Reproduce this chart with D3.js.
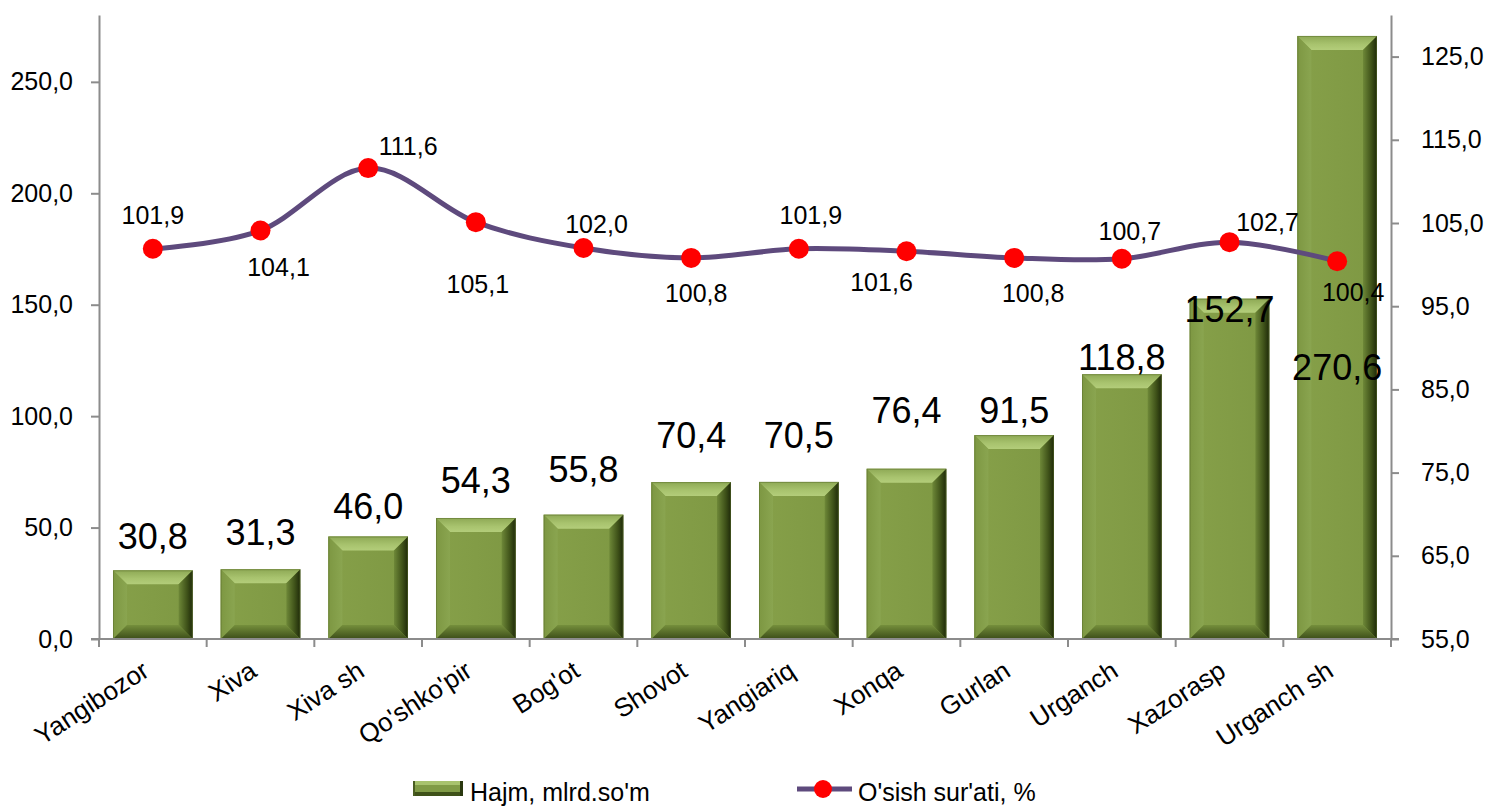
<!DOCTYPE html>
<html>
<head>
<meta charset="utf-8">
<script src="https://cdn.jsdelivr.net/npm/d3@7"></script>
<style>
  html, body { margin: 0; padding: 0; background: #fff; }
  svg { display: block; font-family: "Liberation Sans", Arial, sans-serif; }
</style>
</head>
<body>
<svg id="chart" width="1489" height="808"></svg>
<script>
const categories = ["Yangibozor", "Xiva", "Xiva sh", "Qo'shko'pir", "Bog'ot", "Shovot", "Yangiariq", "Xonqa", "Gurlan", "Urganch", "Xazorasp", "Urganch sh"];
const volume = [30.8, 31.3, 46.0, 54.3, 55.8, 70.4, 70.5, 76.4, 91.5, 118.8, 152.7, 270.6];
const growth = [101.9, 104.1, 111.6, 105.1, 102.0, 100.8, 101.9, 101.6, 100.8, 100.7, 102.7, 100.4];
const leftTicks = [0, 50, 100, 150, 200, 250];
const rightTicks = [55, 65, 75, 85, 95, 105, 115, 125];
const seriesNames = ["Hajm, mlrd.so'm", "O'sish sur'ati, %"];

const svg = d3.select("#chart");
const L = 99, R = 1391, T = 15, B = 639;
const fmt = d => d3.format(".1f")(d).replace(".", ",");
const axisColor = "#8c8c8c";

const x = d3.scaleBand().domain(categories).range([L, R]).paddingInner(0).paddingOuter(0);
const yL = d3.scaleLinear().domain([0, 280]).range([B, T]);
const yR = d3.scaleLinear().domain([55, 130]).range([B, T]);
const step = x.step();
const bw = step * 0.74;

// defs
const defs = svg.append("defs");
function lg(id, x1, y1, x2, y2, stops) {
  const g = defs.append("linearGradient").attr("id", id)
    .attr("x1", x1).attr("y1", y1).attr("x2", x2).attr("y2", y2);
  stops.forEach(s => g.append("stop").attr("offset", s[0]).attr("stop-color", s[1]));
}
lg("gTop", 0, 0, 0, 1, [[0, "#8EA955"], [0.6, "#A8C36E"], [1, "#B3CD7A"]]);
lg("gLeft", 0, 0, 1, 0, [[0, "#7D9742"], [1, "#8AA550"]]);
lg("gRight", 0, 0, 1, 0, [[0, "#6E8838"], [0.6, "#3F5219"], [1, "#1E2909"]]);
lg("gBot", 0, 0, 0, 1, [[0, "#758F3C"], [1, "#3C4D18"]]);
lg("gFace", 0, 0, 1, 0, [[0, "#86A049"], [1, "#7E9843"]]);

// bars
const bars = svg.append("g");
volume.forEach((v, i) => {
  const x0 = x(categories[i]) + (step - bw) / 2;
  const y0 = yL(v), h = yL(0) - yL(v), w = bw;
  const b = Math.min(14, h / 2, w / 2);
  const g = bars.append("g");
  g.append("rect").attr("x", x0).attr("y", y0).attr("width", w).attr("height", h).attr("fill", "url(#gFace)");
  const poly = (pts, fill) => g.append("polygon").attr("points", pts.map(p => p.join(",")).join(" ")).attr("fill", fill);
  poly([[x0, y0], [x0 + w, y0], [x0 + w - b, y0 + b], [x0 + b, y0 + b]], "url(#gTop)");
  poly([[x0, y0], [x0 + b, y0 + b], [x0 + b, y0 + h - b], [x0, y0 + h]], "url(#gLeft)");
  poly([[x0 + w, y0], [x0 + w, y0 + h], [x0 + w - b, y0 + h - b], [x0 + w - b, y0 + b]], "url(#gRight)");
  poly([[x0, y0 + h], [x0 + b, y0 + h - b], [x0 + w - b, y0 + h - b], [x0 + w, y0 + h]], "url(#gBot)");
  g.append("rect").attr("x", x0 + 0.5).attr("y", y0 + 0.5).attr("width", w - 1).attr("height", h - 1)
    .attr("fill", "none").attr("stroke", "#5a6e2c").attr("stroke-opacity", 0.5).attr("stroke-width", 1);
});

// axes
const leftAxis = d3.axisLeft(yL).tickValues(leftTicks).tickFormat(fmt).tickSize(8).tickSizeOuter(0);
const gl = svg.append("g").attr("transform", `translate(${L},0)`).call(leftAxis);
const rightAxis = d3.axisRight(yR).tickValues(rightTicks).tickFormat(fmt).tickSize(8).tickSizeOuter(0);
const gr = svg.append("g").attr("transform", `translate(${R},0)`).call(rightAxis);
[gl, gr].forEach(g => {
  g.select(".domain").attr("stroke", axisColor).attr("stroke-width", 2);
  g.selectAll(".tick line").attr("stroke", axisColor).attr("stroke-width", 2);
  g.selectAll(".tick text").attr("font-size", 25).attr("fill", "#000").attr("font-family", "Liberation Sans, Arial, sans-serif");
});
gl.selectAll(".tick text").attr("x", -26);
gr.selectAll(".tick text").attr("x", 30);

// x axis
const gx = svg.append("g");
gx.append("line").attr("x1", L - 8).attr("x2", R + 8).attr("y1", B).attr("y2", B).attr("stroke", axisColor).attr("stroke-width", 2);
d3.range(categories.length + 1).forEach(i => {
  const xx = L + i * step;
  gx.append("line").attr("x1", xx).attr("x2", xx).attr("y1", B).attr("y2", B + 8).attr("stroke", axisColor).attr("stroke-width", 2);
});
categories.forEach(c => {
  const cx = x(c) + step / 2 - 2;
  gx.append("text").attr("transform", `translate(${cx},${B + 36}) rotate(-33)`)
    .attr("text-anchor", "end").attr("font-size", 26).attr("fill", "#000").text(c);
});

// bar value labels (baseline offset from bar top, as placed in the original)
const barLabelShift = [-21, -24, -17, -25, -33, -34, -34, -46, -12, -4, 23, 344];
volume.forEach((v, i) => {
  const cx = x(categories[i]) + step / 2;
  const by = yL(v) + barLabelShift[i];
  svg.append("text").attr("x", cx).attr("y", by).attr("text-anchor", "middle")
    .attr("font-size", 36).attr("fill", "#000").text(fmt(v));
});

// line
const px = i => x(categories[i]) + step / 2;
const line = d3.line().x((d, i) => px(i)).y(d => yR(d)).curve(d3.curveCatmullRom.alpha(0));
svg.append("path").datum(growth).attr("d", line).attr("fill", "none")
  .attr("stroke", "#5E4A7D").attr("stroke-width", 5).attr("stroke-linecap", "round");
svg.append("g").selectAll("circle").data(growth).join("circle")
  .attr("cx", (d, i) => px(i)).attr("cy", d => yR(d)).attr("r", 10).attr("fill", "#FF0000");

const lineLabelOffset = [[0, -34], [18, 37], [40, -22], [2, 62], [13, -24], [5, 35], [12, -34], [-25, 31], [19, 35], [8, -28], [38, -20], [16, 31]];
growth.forEach((g, i) => {
  const o = lineLabelOffset[i];
  svg.append("text").attr("x", px(i) + o[0]).attr("y", yR(g) + o[1]).attr("dy", "0.35em")
    .attr("text-anchor", "middle").attr("font-size", 25).attr("fill", "#000").text(fmt(g));
});

// legend
const lgd = svg.append("g");
{
  const sx = 413, sy = 781, sw = 50, sh = 15, b = 4;
  lgd.append("rect").attr("x", sx).attr("y", sy).attr("width", sw).attr("height", sh).attr("fill", "#809B46");
  lgd.append("rect").attr("x", sx).attr("y", sy).attr("width", sw).attr("height", b).attr("fill", "#A8C36E");
  lgd.append("rect").attr("x", sx).attr("y", sy + sh - b).attr("width", sw).attr("height", b).attr("fill", "#3F5219");
  lgd.append("rect").attr("x", sx + sw - 3).attr("y", sy).attr("width", 3).attr("height", sh).attr("fill", "#2a3810");
  lgd.append("rect").attr("x", sx).attr("y", sy).attr("width", 2).attr("height", sh).attr("fill", "#4a5e22");
  lgd.append("text").attr("x", 470).attr("y", 801).attr("font-size", 25).attr("fill", "#000").text(seriesNames[0]);
  lgd.append("line").attr("x1", 797).attr("x2", 852).attr("y1", 789).attr("y2", 789).attr("stroke", "#5E4A7D").attr("stroke-width", 5);
  lgd.append("circle").attr("cx", 823).attr("cy", 789).attr("r", 9).attr("fill", "#FF0000");
  lgd.append("text").attr("x", 858).attr("y", 801).attr("font-size", 25).attr("fill", "#000").text(seriesNames[1]);
}
</script>
</body>
</html>
